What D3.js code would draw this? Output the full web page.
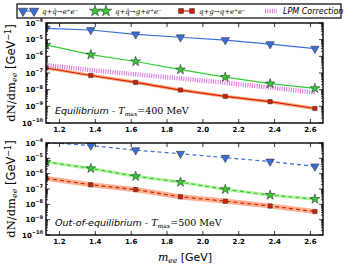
<!DOCTYPE html>
<html>
<head>
<meta charset="utf-8">
<script src="https://cdn.jsdelivr.net/npm/d3@7"></script>
<style>
  body { margin: 0; background: #fff; }
  text { fill: #000; }
</style>
</head>
<body>
<svg id="chart" width="360" height="270"></svg>
<script>
// invariant mass bins (GeV)
const mass = [1.125, 1.375, 1.625, 1.875, 2.125, 2.375, 2.625];
const xTicks = [1.2, 1.4, 1.6, 1.8, 2.0, 2.2, 2.4, 2.6];
const yExps = [-10, -9, -8, -7, -6, -5, -4];

// Equilibrium, Tmax = 400 MeV
const eqQQ = [4.7e-5, 3.8e-5, 2.1e-5, 1.4e-5, 9.5e-6, 5.4e-6, 2.9e-6];
const eqQQG = [4.9e-6, 1.26e-6, 4.9e-7, 1.6e-7, 5.6e-8, 2.3e-8, 1.2e-8];
const eqQG = [2.0e-7, 7.1e-8, 2.75e-8, 9.5e-9, 4.0e-9, 1.9e-9, 7.4e-10];
const eqQGLo = [1.6e-7, 5.7e-8, 2.2e-8, 7.6e-9, 3.2e-9, 1.5e-9, 5.9e-10];
const eqQGHi = [2.5e-7, 8.9e-8, 3.5e-8, 1.2e-8, 5.0e-9, 2.4e-9, 9.3e-10];
const eqLPM = [3.0e-7, 1.5e-7, 8.3e-8, 4.7e-8, 2.6e-8, 1.35e-8, 6.8e-9];

// Out-of-equilibrium, Tmax = 500 MeV
const neqQQ = [1.1e-4, 6.8e-5, 3.4e-5, 2.0e-5, 1.1e-5, 6.2e-6, 3.0e-6];
const neqQQG = [5.9e-6, 2.2e-6, 6.8e-7, 2.8e-7, 9.5e-8, 4.0e-8, 2.2e-8];
const neqQQGLo = [4.6e-6, 1.7e-6, 5.3e-7, 2.2e-7, 7.4e-8, 3.1e-8, 1.7e-8];
const neqQQGHi = [7.6e-6, 2.8e-6, 8.7e-7, 3.6e-7, 1.2e-7, 5.1e-8, 2.8e-8];
const neqQG = [5.0e-7, 1.9e-7, 9.1e-8, 3.1e-8, 1.6e-8, 7.8e-9, 3.4e-9];
const neqQGLo = [3.4e-7, 1.3e-7, 6.2e-8, 2.1e-8, 1.1e-8, 5.3e-9, 2.3e-9];
const neqQGHi = [7.4e-7, 2.8e-7, 1.35e-7, 4.6e-8, 2.4e-8, 1.15e-8, 5.0e-9];

const BLUE = '#3b6fd6', GREEN = '#33cc33', RED = '#d81e05', LPM = '#e070e8';

const svg = d3.select('#chart');
const x = d3.scaleLinear().domain([1.125, 2.67]).range([46, 323]);

const triDown = d3.symbol().type(d3.symbolTriangle).size(30);
const star = d3.symbol().type(d3.symbolStar).size(30);
const square = d3.symbol().type(d3.symbolSquare).size(18);

function drawMarker(g, type, cx, cy, color, k = 1) {
  let p;
  if (type === 'tri') {
    p = g.append('path').attr('d', triDown.size(30 * k)())
      .attr('transform', `translate(${cx},${cy}) rotate(180)`);
  } else if (type === 'star') {
    p = g.append('path').attr('d', star.size(30 * k)())
      .attr('transform', `translate(${cx},${cy})`);
  } else {
    p = g.append('path').attr('d', square.size(18 * k)())
      .attr('transform', `translate(${cx},${cy})`);
  }
  p.attr('fill', color).attr('stroke', '#333').attr('stroke-width', 0.6);
}

function supLabel(g, xPos, yPos, exp) {
  const t = g.append('text').attr('x', xPos).attr('y', yPos + 2.5)
    .attr('text-anchor', 'end')
    .style('font-family', 'DejaVu Sans').style('font-weight', 'bold');
  t.append('tspan').style('font-size', '7px').text('10');
  t.append('tspan').attr('dy', -3.5).style('font-size', '5px').text('\u2212' + (-exp));
}

const panels = [
  { top: 23, bottom: 123, dash: null, text: 'Equilibrium - ', tval: '=400 MeV',
    series: [
      { v: eqQQ, c: BLUE, m: 'tri' },
      { v: eqQQG, c: GREEN, m: 'star' },
      { v: eqQG, c: RED, m: 'sq', lo: eqQGLo, hi: eqQGHi, band: '#f7a46e' },
    ], lpm: eqLPM },
  { top: 143, bottom: 235, dash: '4,3', text: 'Out-of-equilibrium - ', tval: '=500 MeV',
    series: [
      { v: neqQQ, c: BLUE, m: 'tri' },
      { v: neqQQG, c: GREEN, m: 'star', lo: neqQQGLo, hi: neqQQGHi, band: '#b5f0a0' },
      { v: neqQG, c: RED, m: 'sq', lo: neqQGLo, hi: neqQGHi, band: '#f8a884' },
    ] },
];

panels.forEach((p, i) => {
  const y = d3.scaleLog().domain([1e-10, 1e-4]).range([p.bottom, p.top]);
  const g = svg.append('g');
  const clipId = 'clip' + i;
  svg.append('clipPath').attr('id', clipId).append('rect')
    .attr('x', x.range()[0]).attr('y', p.top)
    .attr('width', x.range()[1] - x.range()[0]).attr('height', p.bottom - p.top);
  const plot = g.append('g').attr('clip-path', `url(#${clipId})`);

  const line = d3.line().x((d, k) => x(mass[k])).y(d => y(d));

  p.series.forEach(s => {
    if (s.lo) {
      const area = d3.area().x((d, k) => x(mass[k]))
        .y0((d, k) => y(s.lo[k])).y1((d, k) => y(s.hi[k]));
      plot.append('path').attr('d', area(s.v)).attr('fill', s.band).attr('opacity', 0.9);
    }
  });

  if (p.lpm) {
    plot.append('path').attr('d', line(p.lpm)).attr('fill', 'none')
      .attr('stroke', LPM).attr('stroke-width', 4.5).attr('stroke-dasharray', '1,1.3');
  }

  p.series.forEach(s => {
    plot.append('path').attr('d', line(s.v)).attr('fill', 'none')
      .attr('stroke', s.c).attr('stroke-width', 1.2)
      .attr('stroke-dasharray', p.dash);
    s.v.forEach((d, k) => drawMarker(plot, s.m, x(mass[k]), y(d), s.c));
  });

  // ticks
  const axes = g.append('g').attr('stroke', '#000').attr('stroke-width', 0.8);
  xTicks.forEach(t => {
    axes.append('line').attr('x1', x(t)).attr('x2', x(t)).attr('y1', p.bottom).attr('y2', p.bottom - 4);
    axes.append('line').attr('x1', x(t)).attr('x2', x(t)).attr('y1', p.top).attr('y2', p.top + 4);
  });
  const [x0, x1] = x.range();
  yExps.forEach(e => {
    const yy = y(Math.pow(10, e));
    axes.append('line').attr('x1', x0).attr('x2', x0 + 4).attr('y1', yy).attr('y2', yy);
    axes.append('line').attr('x1', x1).attr('x2', x1 - 4).attr('y1', yy).attr('y2', yy);
    if (e < -4) {
      for (let m = 2; m <= 9; m++) {
        const ym = y(m * Math.pow(10, e));
        axes.append('line').attr('x1', x0).attr('x2', x0 + 2).attr('y1', ym).attr('y2', ym);
        axes.append('line').attr('x1', x1).attr('x2', x1 - 2).attr('y1', ym).attr('y2', ym);
      }
    }
    supLabel(g, x0 - 3, yy, e);
  });
  g.append('rect').attr('x', x0).attr('y', p.top).attr('width', x1 - x0)
    .attr('height', p.bottom - p.top).attr('fill', 'none')
    .attr('stroke', '#000').attr('stroke-width', 1.4);

  xTicks.forEach(t => {
    g.append('text').attr('x', x(t)).attr('y', p.bottom + 9).attr('text-anchor', 'middle')
      .style('font-family', 'DejaVu Sans').style('font-weight', 'bold').style('font-size', '7px')
      .text(d3.format('.1f')(t));
  });

  // y label
  const cy = (p.top + p.bottom) / 2;
  const yl = g.append('text').attr('transform', `translate(15,${cy}) rotate(-90)`)
    .attr('text-anchor', 'middle').style('font-size', '11.5px');
  yl.append('tspan').style('font-family', 'DejaVu Serif').text('dN/dm');
  yl.append('tspan').style('font-family', 'DejaVu Serif').style('font-style', 'italic')
    .style('font-size', '8px').attr('dy', 2).text('ee');
  yl.append('tspan').attr('dy', -2).style('font-family', 'DejaVu Sans').text(' [GeV');
  yl.append('tspan').attr('dy', -4).style('font-family', 'DejaVu Sans').style('font-size', '8px').text('\u22121');
  yl.append('tspan').attr('dy', 4).style('font-family', 'DejaVu Sans').text(']');

  // annotation
  const an = g.append('text').attr('x', 55).attr('y', p.bottom - 9).style('font-size', '9.5px');
  an.append('tspan').style('font-family', 'DejaVu Sans').style('font-style', 'italic').text(p.text);
  an.append('tspan').style('font-family', 'DejaVu Serif').style('font-style', 'italic').text('T');
  an.append('tspan').style('font-family', 'DejaVu Serif').style('font-size', '6px').attr('dy', 1.5).text('max');
  an.append('tspan').style('font-family', 'DejaVu Serif').attr('dy', -1.5).text(p.tval);
});

// x label
const xl = svg.append('text').attr('x', 185).attr('y', 261).attr('text-anchor', 'middle').style('font-size', '11px');
xl.append('tspan').style('font-family', 'DejaVu Serif').style('font-style', 'italic').text('m');
xl.append('tspan').style('font-family', 'DejaVu Serif').style('font-style', 'italic').style('font-size', '7.5px').attr('dy', 2).text('ee');
xl.append('tspan').style('font-family', 'DejaVu Sans').attr('dy', -2).text(' [GeV]');

// legend
const legendItems = [
  { c: BLUE, m: 'tri', label: 'q+q\u0304\u2192e\u207Ae\u207B', mx: 20, tx: 42 },
  { c: GREEN, m: 'star', label: 'q+q\u0304\u2192g+e\u207Ae\u207B', mx: 92, tx: 115 },
  { c: RED, m: 'sq', label: 'q+g\u2192q+e\u207Ae\u207B', mx: 178, tx: 199 },
  { c: LPM, m: null, label: 'LPM Correction', mx: 265, tx: 283 },
];
const lg = svg.append('g');
lg.append('rect').attr('x', 17).attr('y', 4).attr('width', 324).attr('height', 14)
  .attr('fill', '#fff').attr('stroke', '#000').attr('stroke-width', 1.2);
legendItems.forEach(it => {
  const ly = 11;
  if (it.m) {
    lg.append('line').attr('x1', it.mx + 3).attr('x2', it.mx + 14).attr('y1', ly).attr('y2', ly)
      .attr('stroke', it.c).attr('stroke-width', 1.2);
    drawMarker(lg, it.m, it.mx + 3, ly, it.c, 1.3);
    drawMarker(lg, it.m, it.mx + 14, ly, it.c, 1.3);
  } else {
    lg.append('line').attr('x1', it.mx).attr('x2', it.mx + 12).attr('y1', ly).attr('y2', ly)
      .attr('stroke', it.c).attr('stroke-width', 4.5).attr('stroke-dasharray', '1,1.3');
  }
  const t = lg.append('text').attr('x', it.tx).attr('y', ly + 2.5);
  if (it.m) {
    t.style('font-family', 'DejaVu Serif').style('font-style', 'italic').style('font-size', '7px').text(it.label);
  } else {
    t.style('font-family', 'DejaVu Sans').style('font-style', 'italic').style('font-size', '8px').text(it.label);
  }
});
</script>
</body>
</html>
